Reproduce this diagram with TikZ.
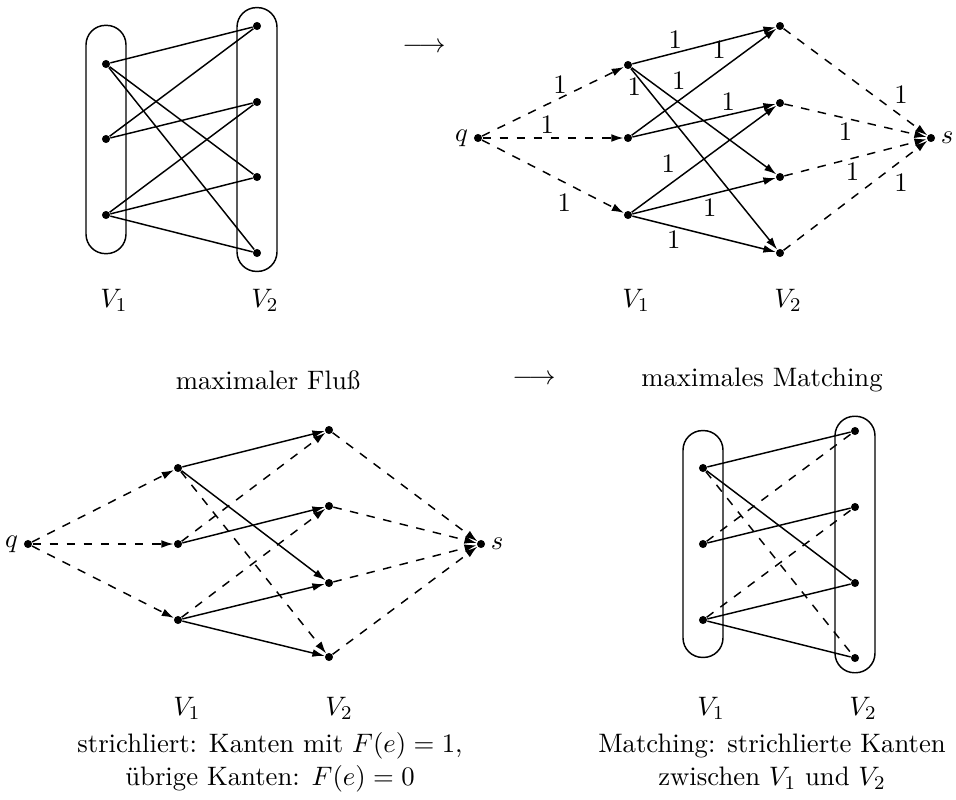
\documentclass[11pt,tikz,border=0pt]{standalone}
\usepackage{fontspec}
\usepackage{tikz}
\usetikzlibrary{arrows.meta, fit}

\begin{document}
\begin{tikzpicture}[
        x=0.41pt, y=-0.41pt,
        vertex/.style={circle, fill=black, inner sep=0pt, minimum size=3.3pt},
        group/.style={draw, semithick, rounded corners=8pt, inner xsep=6.35pt},
        plain/.style={semithick},
        cut/.style={semithick, dash pattern=on 3.5pt off 3.5pt},
        arc/.style={semithick, -{Latex[length=5pt, width=3.2pt]}},
        used/.style={arc, dash pattern=on 3.5pt off 3.5pt},
        lbl/.style={inner sep=1.5pt}
    ]
        \useasboundingbox (0,0) rectangle (956,799);

        % bipartite graph
        \node[vertex] (Aa1) at (106,64) {};
        \node[vertex] (Aa2) at (106,139) {};
        \node[vertex] (Aa3) at (106,215) {};
        \node[vertex] (Ab1) at (257,26) {};
        \node[vertex] (Ab2) at (257,102) {};
        \node[vertex] (Ab3) at (257,177) {};
        \node[vertex] (Ab4) at (257,253) {};
        \node[group, inner ysep=14pt, fit=(Aa1)(Aa3)] (AV1) {};
        \node[group, inner ysep=5.7pt, fit=(Ab1)(Ab4)] (AV2) {};
        \node (AV1l) at (114,300) {$V_1$};
        \node (AV2l) at (265,300) {$V_2$};

        \draw[plain] (Aa1) -- (Ab1);
        \draw[plain] (Aa1) -- (Ab3);
        \draw[plain] (Aa1) -- (Ab4);
        \draw[plain] (Aa2) -- (Ab1);
        \draw[plain] (Aa2) -- (Ab2);
        \draw[plain] (Aa3) -- (Ab2);
        \draw[plain] (Aa3) -- (Ab3);
        \draw[plain] (Aa3) -- (Ab4);

        \node (Ato) at (424,48) {$\longrightarrow$};

        % flow network
        \node[vertex, label={[inner sep=2pt]left:$q$}] (Bq) at (478,138) {};
        \node[vertex] (Ba1) at (628,65) {};
        \node[vertex] (Ba2) at (628,138) {};
        \node[vertex] (Ba3) at (628,215) {};
        \node[vertex] (Bb1) at (780,26) {};
        \node[vertex] (Bb2) at (780,103) {};
        \node[vertex] (Bb3) at (780,177) {};
        \node[vertex] (Bb4) at (780,253) {};
        \node[vertex, label={[inner sep=2pt]right:$s$}] (Bs) at (931,138) {};
        \node (BV1l) at (636,300) {$V_1$};
        \node (BV2l) at (788,300) {$V_2$};

        \draw[used] (Bq) -- node[lbl, pos=0.55, above] {1} (Ba1);
        \draw[used] (Bq) -- node[lbl, pos=0.46, above] {1} (Ba2);
        \draw[used] (Bq) -- node[lbl, pos=0.58, below=3pt] {1} (Ba3);
        \draw[arc] (Ba1) -- node[lbl, pos=0.3, above] {1} (Bb1);
        \draw[arc] (Ba1) -- node[lbl, pos=0.25, above right] {1} (Bb3);
        \draw[arc] (Ba1) -- node[lbl, pos=0.1, left] {1} (Bb4);
        \draw[arc] (Ba2) -- node[lbl, pos=0.68, above left] {1} (Bb1);
        \draw[arc] (Ba2) -- node[lbl, pos=0.67, above] {1} (Bb2);
        \draw[arc] (Ba3) -- node[lbl, pos=0.33, above left] {1} (Bb2);
        \draw[arc] (Ba3) -- node[lbl, pos=0.54, below] {1} (Bb3);
        \draw[arc] (Ba3) -- node[lbl, pos=0.29, below] {1} (Bb4);
        \draw[used] (Bb1) -- node[lbl, pos=0.74, above right] {1} (Bs);
        \draw[used] (Bb2) -- node[lbl, pos=0.43, below] {1} (Bs);
        \draw[used] (Bb3) -- node[lbl, pos=0.48, below] {1} (Bs);
        \draw[used] (Bb4) -- node[lbl, pos=0.74, below right] {1} (Bs);

        \node (Cflow) at (268,380) {maximaler Fluß};
        \node (Cto) at (534,380) {$\longrightarrow$};
        \node (Dmatch) at (762,380) {maximales Matching};

        % maximal flow
        \node[vertex, label={[inner sep=2pt]left:$q$}] (Cq) at (28,544) {};
        \node[vertex] (Ca1) at (178,468) {};
        \node[vertex] (Ca2) at (178,544) {};
        \node[vertex] (Ca3) at (178,620) {};
        \node[vertex] (Cb1) at (329,430) {};
        \node[vertex] (Cb2) at (329,506) {};
        \node[vertex] (Cb3) at (329,583) {};
        \node[vertex] (Cb4) at (329,657) {};
        \node[vertex, label={[inner sep=2pt]right:$s$}] (Cs) at (481,544) {};
        \node (CV1l) at (187,708) {$V_1$};
        \node (CV2l) at (339,708) {$V_2$};

        \draw[used] (Cq) -- (Ca1);
        \draw[used] (Cq) -- (Ca2);
        \draw[used] (Cq) -- (Ca3);
        \draw[arc] (Ca1) -- (Cb1);
        \draw[arc] (Ca1) -- (Cb3);
        \draw[used] (Ca1) -- (Cb4);
        \draw[used] (Ca2) -- (Cb1);
        \draw[arc] (Ca2) -- (Cb2);
        \draw[used] (Ca3) -- (Cb2);
        \draw[arc] (Ca3) -- (Cb3);
        \draw[arc] (Ca3) -- (Cb4);
        \draw[used] (Cb1) -- (Cs);
        \draw[used] (Cb2) -- (Cs);
        \draw[used] (Cb3) -- (Cs);
        \draw[used] (Cb4) -- (Cs);

        \node[align=center] (Ccap) at (270,762)
            {strichliert: Kanten mit $F(e)=1$,\\übrige Kanten: $F(e)=0$};

        % maximal matching
        \node[vertex] (Da1) at (703,468) {};
        \node[vertex] (Da2) at (703,544) {};
        \node[vertex] (Da3) at (703,620) {};
        \node[vertex] (Db1) at (855,431) {};
        \node[vertex] (Db2) at (855,507) {};
        \node[vertex] (Db3) at (855,583) {};
        \node[vertex] (Db4) at (855,658) {};
        \node[group, inner ysep=13.5pt, fit=(Da1)(Da3)] (DV1) {};
        \node[group, inner ysep=4.2pt, fit=(Db1)(Db4)] (DV2) {};
        \node (DV1l) at (711,708) {$V_1$};
        \node (DV2l) at (863,708) {$V_2$};

        \draw[plain] (Da1) -- (Db1);
        \draw[plain] (Da1) -- (Db3);
        \draw[cut] (Da1) -- (Db4);
        \draw[cut] (Da2) -- (Db1);
        \draw[plain] (Da2) -- (Db2);
        \draw[cut] (Da3) -- (Db2);
        \draw[plain] (Da3) -- (Db3);
        \draw[plain] (Da3) -- (Db4);

        \node[align=center] (Dcap) at (772,762)
            {Matching: strichlierte Kanten\\zwischen $V_1$ und $V_2$};
    \end{tikzpicture}
\end{document}
